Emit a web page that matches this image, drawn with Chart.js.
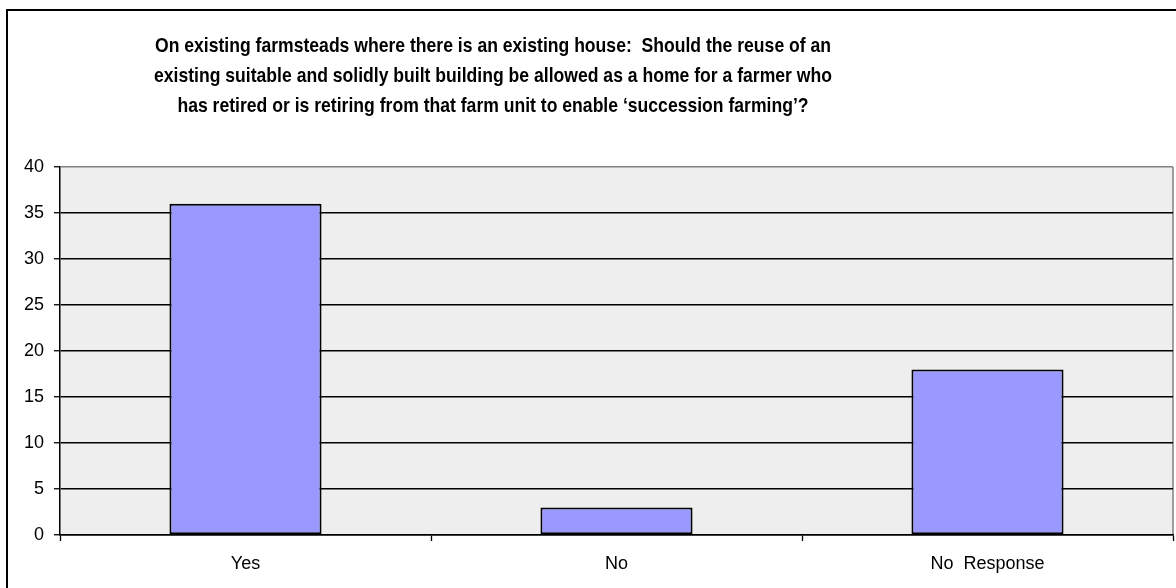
<!DOCTYPE html>
<html>
<head>
<meta charset="utf-8">
<script src="https://cdn.jsdelivr.net/npm/chart.js@4/dist/chart.umd.min.js"></script>
<style>
  html, body { margin: 0; padding: 0; background: #fff; }
  #wrap { width: 1176px; height: 588px; position: relative; }
</style>
</head>
<body>
<div id="wrap"><canvas id="survey-chart" width="1176" height="588"></canvas></div>
<script>
const titleLines = [
  "On existing farmsteads where there is an existing house:  Should the reuse of an",
  "existing suitable and solidly built building be allowed as a home for a farmer who",
  "has retired or is retiring from that farm unit to enable \u2018succession farming\u2019?"
];
const categories = ["Yes", "No", "No  Response"];
const responses = [36, 3, 18];
const yTicks = [0, 5, 10, 15, 20, 25, 30, 35, 40];

const FONT = '"Liberation Sans", Arial, sans-serif';

// grey plot background, outer frame and the bold heading
const frame = {
  id: "frame",
  beforeDraw(chart) {
    const { ctx, chartArea: a } = chart;
    ctx.save();
    ctx.fillStyle = "#fff";
    ctx.fillRect(0, 0, chart.width, chart.height);
    ctx.fillStyle = "#EEEEEE";
    ctx.fillRect(a.left, a.top, a.right - a.left, a.bottom - a.top);
    ctx.strokeStyle = "#808080";
    ctx.lineWidth = 1.5;
    ctx.beginPath();
    ctx.moveTo(a.right, a.top);
    ctx.lineTo(a.right, a.bottom);
    ctx.stroke();
    ctx.strokeStyle = "#000";
    ctx.lineWidth = 2;
    ctx.strokeRect(7, 10, chart.width + 20, chart.height + 20);
    ctx.restore();
  },
  afterDraw(chart) {
    const ctx = chart.ctx;
    ctx.save();
    ctx.font = "bold 21px " + FONT;
    ctx.fillStyle = "#000";
    ctx.textAlign = "center";
    ctx.textBaseline = "alphabetic";
    const natural = Math.max(...titleLines.map(l => ctx.measureText(l).width));
    const k = Math.min(1, 678 / natural);
    titleLines.forEach((line, i) => {
      ctx.save();
      ctx.translate(493, 52 + i * 30);
      ctx.scale(k, 1);
      ctx.fillText(line, 0, 0);
      ctx.restore();
    });
    ctx.restore();
  }
};

new Chart(document.getElementById("survey-chart"), {
  type: "bar",
  data: {
    labels: categories,
    datasets: [{
      data: responses,
      backgroundColor: "#9999FF",
      borderColor: "#000",
      borderWidth: 2,
      borderSkipped: false,
      categoryPercentage: 1,
      barPercentage: 0.41
    }]
  },
  options: {
    responsive: false,
    animation: false,
    devicePixelRatio: 1,
    layout: { padding: { left: 0, right: 3, top: 167, bottom: 0 } },
    plugins: {
      legend: { display: false },
      title: { display: false },
      tooltip: { enabled: false }
    },
    scales: {
      x: {
        afterFit(scale) { scale.height = 53; },
        grid: {
          offset: true,
          drawOnChartArea: false,
          drawTicks: true,
          tickLength: 6,
          tickColor: "#000",
          tickWidth: 1.3
        },
        border: { color: "#000", width: 1.5 },
        ticks: {
          color: "#000",
          padding: 12,
          font: { family: FONT, size: 18 }
        }
      },
      y: {
        min: 0,
        max: 40,
        afterFit(scale) { scale.width = 60; },
        afterBuildTicks(scale) { scale.ticks = yTicks.map(v => ({ value: v })); },
        grid: {
          color: ctx => (ctx.tick && ctx.tick.value === 40 ? "#808080" : "#000"),
          lineWidth: 1.5,
          tickLength: 6,
          tickColor: "#000",
          tickWidth: 1.3
        },
        border: { color: "#000", width: 1.5 },
        ticks: {
          color: "#000",
          padding: 10,
          font: { family: FONT, size: 18 }
        }
      }
    }
  },
  plugins: [frame]
});
</script>
</body>
</html>
